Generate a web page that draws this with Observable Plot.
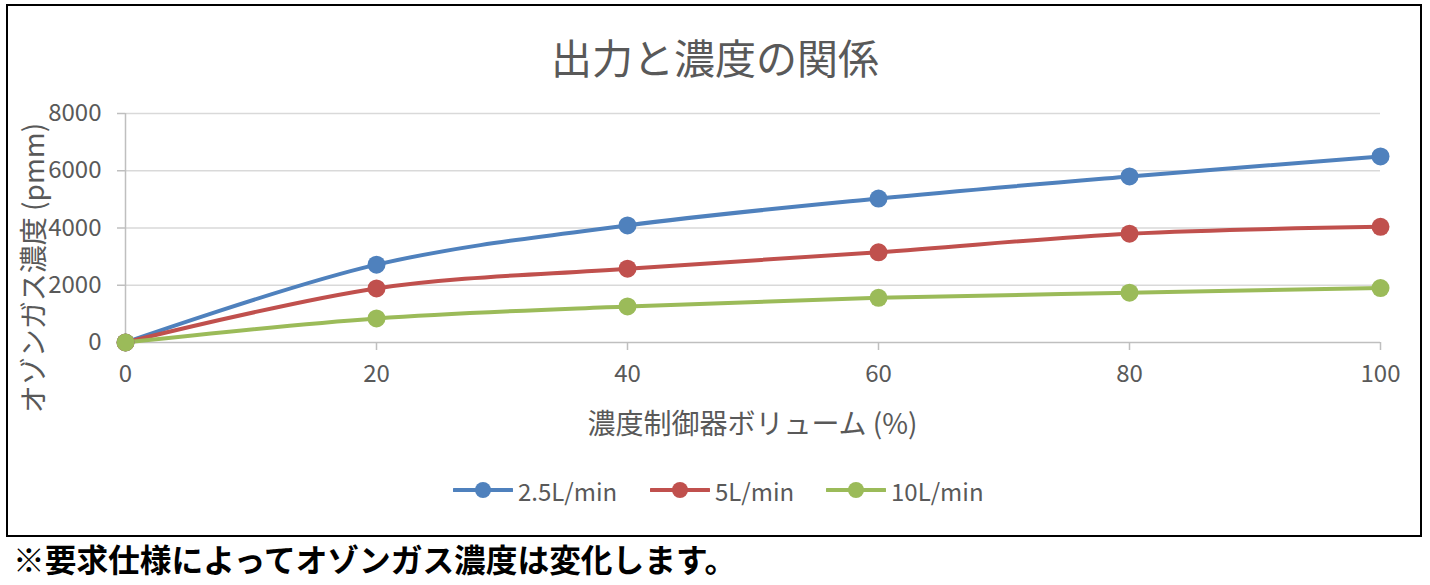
<!DOCTYPE html>
<html>
<head>
<meta charset="utf-8">
<script src="https://cdn.jsdelivr.net/npm/d3@7"></script>
<script src="https://cdn.jsdelivr.net/npm/@observablehq/plot@0.6"></script>
<style>
  html, body { margin: 0; padding: 0; background: #fff; }
  #wrap { position: relative; width: 1430px; height: 585px; overflow: hidden; font-family: "Noto Sans CJK JP", "Noto Sans", sans-serif; }
  #box { position: absolute; left: 6px; top: 4px; width: 1412px; height: 529px; border: 2px solid #000; }
  #title { position: absolute; left: 0; width: 1430px; top: 36px; text-align: center; font-size: 41px; line-height: 1; color: #595959; }
  #xlabel { position: absolute; left: 125px; width: 1255px; top: 408px; text-align: center; font-size: 28px; line-height: 1; color: #595959; }
  #ylabel { position: absolute; left: 32px; top: 268px; width: 400px; margin-left: -200px; margin-top: -15px; text-align: center; font-size: 28px; line-height: 30px; color: #595959; transform: rotate(-90deg); white-space: nowrap; }
  #chart { position: absolute; left: 0; top: 0; }
  #legend { position: absolute; left: 0; top: 474px; width: 1430px; height: 32px; }
  .item { position: absolute; top: 0; height: 32px; display: flex; align-items: center; font-size: 24px; color: #595959; }
  .item svg { margin-right: 5px; }
  #footer { position: absolute; left: 13px; top: 540px; font-size: 31.7px; line-height: 36px; font-weight: bold; color: #000; white-space: nowrap; }
</style>
</head>
<body>
<div id="wrap">
  <div id="box"></div>
  <div id="chart"></div>
  <div id="title"></div>
  <div id="ylabel"></div>
  <div id="xlabel"></div>
  <div id="legend"></div>
  <div id="footer"></div>
</div>
<script>
const titleText = "出力と濃度の関係";
const xLabel = "濃度制御器ボリューム (%)";
const yLabel = "オゾンガス濃度 (pmm)";
const footerText = "※要求仕様によってオゾンガス濃度は変化します。";

const volumes = [0, 20, 40, 60, 80, 100];
const seriesNames = ["2.5L/min", "5L/min", "10L/min"];
const seriesColors = ["#4f81bd", "#c0504d", "#9bbb59"];
const flow25 = [0, 2720, 4090, 5030, 5800, 6500];
const flow5 = [0, 1890, 2580, 3150, 3800, 4040];
const flow10 = [0, 840, 1260, 1560, 1740, 1900];
const xTicks = [0, 20, 40, 60, 80, 100];
const yTicks = [0, 2000, 4000, 6000, 8000];
const gridTicks = [2000, 4000, 6000, 8000];

const seriesValues = [flow25, flow5, flow10];
const data = [];
seriesNames.forEach((name, i) => {
  volumes.forEach((v, j) => data.push({series: name, x: v, y: seriesValues[i][j]}));
});

const textFont = "\"Noto Sans CJK JP\", \"Noto Sans\", sans-serif";

const chart = Plot.plot({
  width: 1430,
  height: 460,
  marginLeft: 125,
  marginRight: 50,
  marginTop: 113,
  marginBottom: 118,
  style: {fontFamily: textFont, fontSize: "24px", color: "#595959", background: "transparent", overflow: "visible"},
  x: {domain: [0, 100]},
  y: {domain: [0, 8000]},
  color: {domain: seriesNames, range: seriesColors},
  marks: [
    Plot.gridY(gridTicks, {stroke: "#d9d9d9", strokeOpacity: 1, strokeWidth: 1.5}),
    Plot.ruleY([0], {stroke: "#bfbfbf", strokeWidth: 1.5}),
    Plot.ruleX([0], {stroke: "#bfbfbf", strokeWidth: 1.5}),
    Plot.axisY({ticks: yTicks, tickSize: 8, tickPadding: 16, stroke: "#bfbfbf", strokeWidth: 1.5, fill: "#595959", label: null, tickFormat: d => String(d), fontSize: 24}),
    Plot.axisX({ticks: xTicks, tickSize: 8, tickPadding: 14, stroke: "#bfbfbf", strokeWidth: 1.5, fill: "#595959", label: null, tickFormat: d => String(d), fontSize: 24}),
    Plot.line(data, {x: "x", y: "y", z: "series", stroke: "series", strokeWidth: 4, curve: "catmull-rom"}),
    Plot.dot(data, {x: "x", y: "y", fill: "series", r: 9})
  ]
});
document.getElementById("chart").appendChild(chart);

document.getElementById("title").textContent = titleText;
document.getElementById("xlabel").textContent = xLabel;
document.getElementById("ylabel").textContent = yLabel;
document.getElementById("footer").textContent = footerText;

const legendLefts = [453, 650, 826];
const legend = document.getElementById("legend");
seriesNames.forEach((name, i) => {
  const item = document.createElement("div");
  item.className = "item";
  item.style.left = legendLefts[i] + "px";
  const c = seriesColors[i];
  item.innerHTML = `<svg width="60" height="20"><line x1="1" y1="10" x2="59" y2="10" stroke="${c}" stroke-width="4" stroke-linecap="round"/><circle cx="30" cy="10" r="8" fill="${c}"/></svg>`;
  const span = document.createElement("span");
  span.textContent = name;
  item.appendChild(span);
  legend.appendChild(item);
});
</script>
</body>
</html>
